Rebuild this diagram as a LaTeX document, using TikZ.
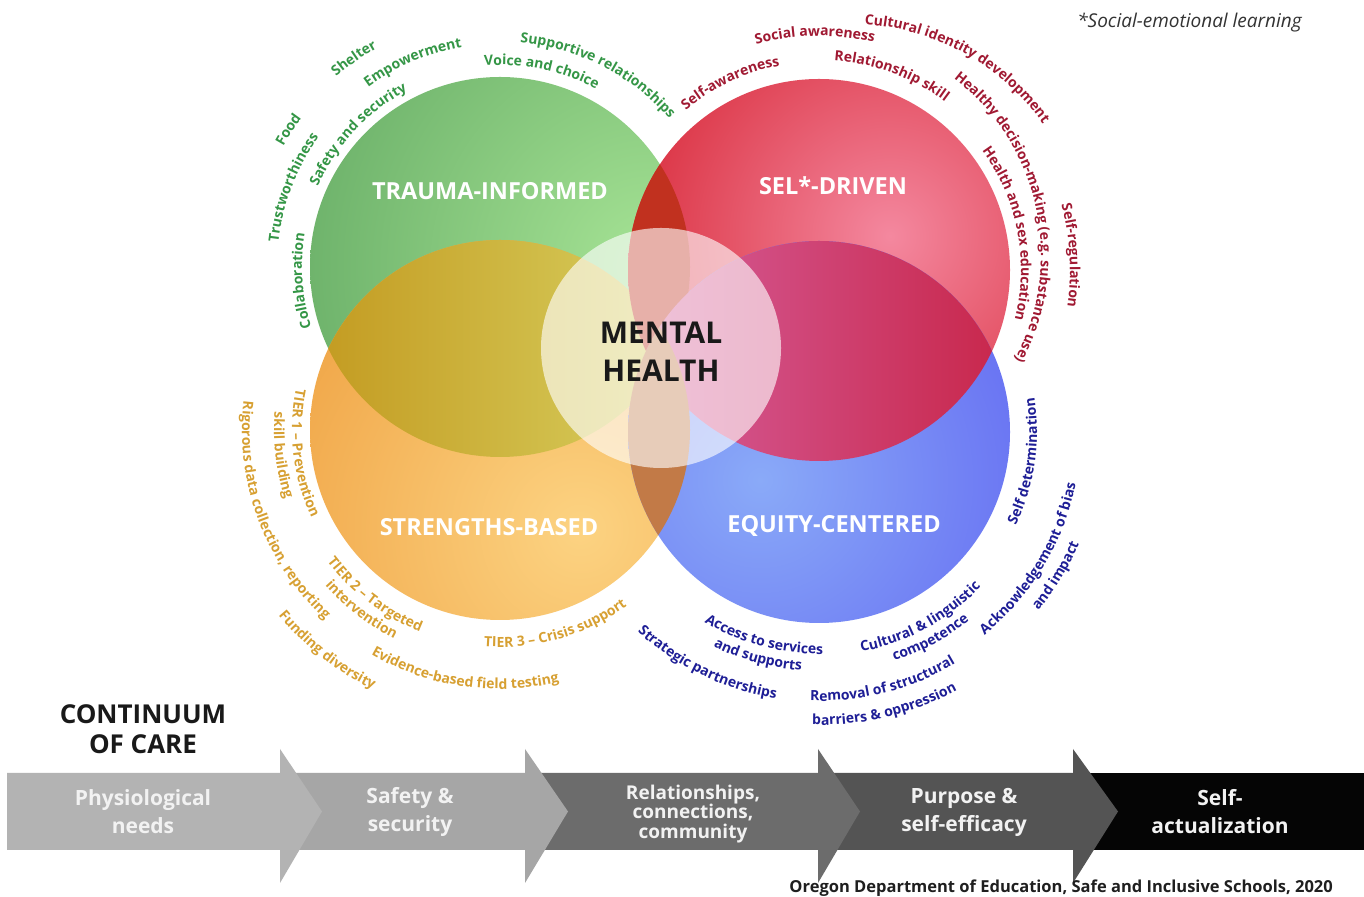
\documentclass[tikz,border=0pt]{standalone}
\usepackage{fontspec}
\setmainfont{Open Sans}
\definecolor{gA}{HTML}{5FA660}
\definecolor{gB}{HTML}{A6E395}
\definecolor{rA}{HTML}{DA3040}
\definecolor{rB}{HTML}{F4889F}
\definecolor{oA}{HTML}{EE9D3C}
\definecolor{oB}{HTML}{FCD382}
\definecolor{bA}{HTML}{8AAAF8}
\definecolor{bB}{HTML}{5A5AF0}
\definecolor{goA}{HTML}{C39A20}
\definecolor{goB}{HTML}{D8D262}
\definecolor{grA}{HTML}{C1311F}
\definecolor{rbA}{HTML}{D6609E}
\definecolor{rbB}{HTML}{C8264A}
\definecolor{obA}{HTML}{C27A47}
\definecolor{tG}{RGB}{52,150,70}
\definecolor{tR}{RGB}{160,25,50}
\definecolor{tO}{RGB}{215,160,50}
\definecolor{tB}{RGB}{30,30,150}
\definecolor{s1}{HTML}{B3B3B3}
\definecolor{s2}{HTML}{A6A6A6}
\definecolor{s3}{HTML}{6C6C6C}
\definecolor{s4}{HTML}{545454}
\definecolor{s5}{HTML}{050505}
\newcommand\lblfont{\fontsize{14}{16}\selectfont\bfseries}
\ExplSyntaxOn
\box_new:N \l__arcx_box
\fp_new:N \l__arcx_acc_fp
\fp_new:N \l__arcx_tot_fp
\fp_new:N \l__arcx_w_fp
\fp_new:N \l__arcx_th_fp
\tl_new:N \l__arcx_x_tl
\tl_new:N \l__arcx_y_tl
\tl_new:N \l__arcx_rot_tl
\cs_new_protected:Npn \__arcx_measure:n #1
  {
    \hbox_set:Nn \l__arcx_box { \pgfinterruptpicture \lblfont #1 \endpgfinterruptpicture }
  }
\cs_new_protected:Npn \arcx_text:nnnnnnn #1#2#3#4#5#6#7
  {
    \fp_zero:N \l__arcx_acc_fp
    \str_map_inline:nn {#7}
      {
        \__arcx_measure:n {##1}
        \fp_add:Nn \l__arcx_acc_fp { \dim_to_fp:n { \box_wd:N \l__arcx_box } }
      }
    \fp_set_eq:NN \l__arcx_tot_fp \l__arcx_acc_fp
    \fp_zero:N \l__arcx_acc_fp
    \str_map_inline:nn {#7}
      {
        \__arcx_measure:n {##1}
        \fp_set:Nn \l__arcx_w_fp { \dim_to_fp:n { \box_wd:N \l__arcx_box } }
        \fp_set:Nn \l__arcx_th_fp
          { (#4) + (#5) * ( \l__arcx_acc_fp + \l__arcx_w_fp / 2 - \l__arcx_tot_fp / 2 ) / (#3) * 180 / pi }
        \tl_set:Nx \l__arcx_x_tl { \fp_eval:n { (#1) + (#3) * cosd ( \l__arcx_th_fp ) } }
        \tl_set:Nx \l__arcx_y_tl { \fp_eval:n { (#2) + (#3) * sind ( \l__arcx_th_fp ) } }
        \tl_set:Nx \l__arcx_rot_tl { \fp_eval:n { \l__arcx_th_fp + (#5) * 90 } }
        \pgftext [ base , at = { \pgfpoint { \l__arcx_x_tl pt } { \l__arcx_y_tl pt } } , rotate = \l__arcx_rot_tl ]
          { \lblfont \color {#6} ##1 }
        \fp_add:Nn \l__arcx_acc_fp { \l__arcx_w_fp }
      }
  }
\NewDocumentCommand \TopLab { m m m m m m } { \arcx_text:nnnnnnn {#1} {#2} {#3} {#4} {-1} {#5} {#6} }
\NewDocumentCommand \BotLab { m m m m m m } { \arcx_text:nnnnnnn {#1} {#2} {#3} {#4} {1} {#5} {#6} }
\ExplSyntaxOff
\begin{document}
\begin{tikzpicture}[x=1pt,y=1pt,
  circlab/.style={text=white,font=\fontsize{23.5}{26}\selectfont\bfseries,inner sep=0pt},
  mh/.style={text=black!90,font=\fontsize{30}{38}\selectfont\bfseries,align=center,inner sep=0pt},
  coc/.style={text=black!90,font=\fontsize{26}{30}\selectfont\bfseries,align=center,inner sep=0pt},
  band/.style={text=white!95!black,font=\fontsize{21}{28}\selectfont\bfseries,align=center,inner sep=0pt},
  bandthree/.style={text=white!95!black,font=\fontsize{19}{19.5}\selectfont\bfseries,align=center,inner sep=0pt},
  srcnote/.style={text=black!88,font=\fontsize{16.5}{19}\selectfont\bfseries,inner sep=0pt},
  selnote/.style={text=black!80,font=\fontsize{19}{22}\selectfont\itshape,inner sep=0pt}]
\useasboundingbox (0,0) rectangle (1364,896);
\fill[white] (0,0) rectangle (1364,896);
\coordinate (G) at (500,629);
\coordinate (R) at (819,626);
\coordinate (O) at (500,466);
\coordinate (B) at (819,464);
\coordinate (M) at (661,548);
% circles, each with its own highlight
\begin{scope}
  \clip (G) circle[radius=190];
  \shade[inner color=gB,outer color=gA] (650,630) circle[radius=440];
\end{scope}
\begin{scope}
  \clip (R) circle[radius=191];
  \shade[inner color=rB,outer color=rA] (890,660) circle[radius=270];
\end{scope}
\begin{scope}
  \clip (O) circle[radius=190];
  \shade[inner color=oB,outer color=oA] (580,366) circle[radius=400];
\end{scope}
\begin{scope}
  \clip (B) circle[radius=191];
  \shade[inner color=bA,outer color=bB] (760,416) circle[radius=400];
\end{scope}
% overlaps
\begin{scope}
  \clip (G) circle[radius=190];
  \shade[left color=goA,right color=goB] (O) circle[radius=190];
  \fill[grA] (R) circle[radius=191];
\end{scope}
\begin{scope}
  \clip (R) circle[radius=191];
  \shade[left color=rbA,right color=rbB] (B) circle[radius=191];
\end{scope}
\begin{scope}
  \clip (O) circle[radius=190];
  \fill[obA] (B) circle[radius=191];
\end{scope}
\fill[white,fill opacity=0.62] (M) circle[radius=120];
% labels of the circles
\node[circlab] (ti) at (490,705) {TRAUMA-INFORMED};
\node[circlab] (sel) at (833,710) {SEL*-DRIVEN};
\node[circlab] (sb) at (489,369) {STRENGTHS-BASED};
\node[circlab] (ec) at (834,370) {EQUITY-CENTERED};
\node[mh] (mh) at (661,544) {MENTAL\\HEALTH};
% green items
\TopLab{500}{629}{198}{184}{tG}{Collaboration}
\TopLab{500}{629}{223}{159}{tG}{Trustworthiness}
\TopLab{500}{629}{248}{147}{tG}{Food}
\TopLab{500}{629}{199}{137}{tG}{Safety and security}
\TopLab{500}{629}{251}{125}{tG}{Shelter}
\TopLab{500}{629}{223}{113}{tG}{Empowerment}
\TopLab{500}{629}{202}{78}{tG}{Voice and choice}
\TopLab{500}{629}{225}{63}{tG}{Supportive relationships}
% red items
\TopLab{819}{626}{208}{115.3}{tR}{Self-awareness}
\TopLab{819}{626}{234}{91}{tR}{Social awareness}
\TopLab{819}{626}{210}{69.5}{tR}{Relationship skill}
\TopLab{850}{636}{236}{60.8}{tR}{Cultural identity development}
\TopLab{819}{641}{222}{12.2}{tR}{Healthy decision-making (e.g. substance use)}
\TopLab{819}{626}{202}{11}{tR}{Health and sex education}
\TopLab{819}{626}{251}{3.3}{tR}{Self-regulation}
% orange items
\BotLab{500}{466}{208}{186.8}{tO}{TIER 1 – Prevention}
\BotLab{500}{466}{226}{186.6}{tO}{skill building}
\BotLab{500}{466}{258}{200.4}{tO}{Rigorous data collection, reporting}
\BotLab{500}{466}{217}{232.8}{tO}{TIER 2 – Targeted}
\BotLab{500}{466}{234}{232.4}{tO}{intervention}
\BotLab{500}{466}{289}{231.9}{tO}{Funding diversity}
\BotLab{500}{466}{259}{261.7}{tO}{Evidence-based field testing}
\BotLab{500}{466}{217}{285.8}{tO}{TIER 3 – Crisis support}
% blue items
\BotLab{819}{464}{270}{244.3}{tB}{Strategic partnerships}
\BotLab{819}{464}{222}{255}{tB}{Access to services}
\BotLab{819}{464}{239}{254.8}{tB}{and supports}
\BotLab{819}{464}{224}{298.6}{tB}{Cultural & linguistic}
\BotLab{819}{464}{241}{298.4}{tB}{competence}
\BotLab{819}{464}{269}{284.3}{tB}{Removal of structural}
\BotLab{819}{464}{293}{283.4}{tB}{barriers & oppression}
\BotLab{819}{464}{262}{328.9}{tB}{Acknowledgement of bias}
\BotLab{819}{464}{283}{328.8}{tB}{and impact}
\BotLab{819}{464}{218}{351.8}{tB}{Self determination}
% continuum band
\fill[s5] (1073,123) rectangle (1364,46);
\fill[s4] (818,123) -- (1073,123) -- (1073,147) -- (1118,84.5) -- (1073,13) -- (1073,46) -- (818,46) -- cycle;
\fill[s3] (525,123) -- (818,123) -- (818,147) -- (860,84.5) -- (818,13) -- (818,46) -- (525,46) -- cycle;
\fill[s2] (280,123) -- (525,123) -- (525,147) -- (568,84.5) -- (525,13) -- (525,46) -- (280,46) -- cycle;
\fill[s1] (7,123) -- (280,123) -- (280,147) -- (322,84.5) -- (280,13) -- (280,46) -- (7,46) -- cycle;
\node[coc] (coc) at (143,167) {CONTINUUM\\OF CARE};
\node[band] (b1) at (143,84) {Physiological\\needs};
\node[band] (b2) at (410,84) {Safety \&\\security};
\node[bandthree] (b3) at (693,82) {Relationships,\\connections,\\community};
\node[band] (b4) at (964,84) {Purpose \&\\self-efficacy};
\node[band] (b5) at (1220,84) {Self-\\actualization};
\node[srcnote,anchor=base east] (src) at (1333,4) {Oregon Department of Education, Safe and Inclusive Schools, 2020};
\node[selnote,anchor=base east] (note) at (1302,868) {*Social-emotional learning};
\end{tikzpicture}
\end{document}
